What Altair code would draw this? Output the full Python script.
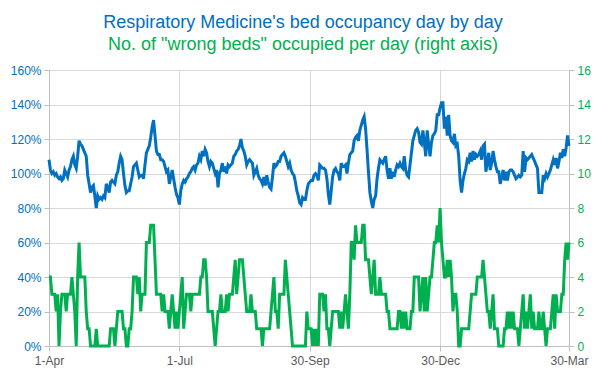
import altair as alt
import pandas as pd

# Daily bed occupancy (%) from 1-Apr to 30-Mar
occupancy_pct = [
    # Apr - May (days 0-59)
    108, 102, 100, 101, 99, 100, 98, 97, 98, 96,
    97, 102, 100, 98, 102, 104, 108, 110, 105, 103,
    110, 119, 117, 116, 114, 112, 110, 99, 94, 89,
    92, 93, 87, 80, 87, 85, 86, 85, 87, 86,
    94, 92, 89, 95, 96, 95, 94, 99, 101, 106,
    110, 108, 100, 93, 89, 90, 90, 94, 98, 104,
    # days 60-121
    105, 106, 102, 98, 99, 99, 97, 105, 112, 114,
    116, 121, 127, 131, 122, 113, 111, 111, 108, 108,
    107, 104, 101, 102, 94, 98, 102, 97, 92, 88,
    86, 82, 90, 94, 96, 95, 97, 98, 100, 101,
    103, 104, 102, 105, 106, 110, 108, 113, 110, 114,
    112, 107, 104, 107, 106, 103, 100, 102, 92, 100,
    102, 106,
    # days 122-182
    101, 104, 100, 105, 104, 105, 106, 110, 111, 113,
    114, 116, 120, 115, 113, 110, 105, 107, 108, 107,
    106, 99, 101, 103, 99, 97, 96, 94, 98, 93,
    99, 95, 92, 91, 98, 106, 104, 105, 107, 107,
    110, 111, 112, 110, 107, 104, 106, 102, 100, 99,
    95, 90, 87, 83, 82, 86, 85, 85, 90, 94,
    95,
    # days 183-244
    96, 96, 99, 100, 99, 96, 105, 104, 103, 103,
    102, 97, 88, 82, 90, 98, 102, 103, 101, 100,
    96, 106, 104, 104, 105, 100, 106, 111, 112, 113,
    119, 121, 122, 119, 125, 128, 131, 133, 126, 114,
    101, 89, 84, 80, 85, 87, 97, 103, 108, 107,
    106, 108, 110, 102, 97, 103, 97, 101, 98, 102,
    105, 104,
    # days 245-305
    106, 104, 103, 110, 102, 99, 98, 105, 112, 119,
    122, 125, 126, 124, 118, 117, 125, 118, 110, 125,
    117, 110, 118, 122, 123, 125, 134, 134, 138, 141,
    141, 126, 133, 122, 134, 122, 119, 118, 123, 116,
    117, 110, 96, 89, 96, 100, 103, 108, 107, 112,
    107, 113, 108, 111, 110, 111, 113, 108, 116, 117,
    101,
    # days 306-363
    107, 112, 102, 106, 113, 108, 104, 101, 101, 94,
    98, 102, 96, 101, 96, 101, 102, 102, 101, 99,
    97, 98, 99, 98, 99, 113, 101, 109, 108, 109,
    110, 111, 109, 107, 105, 103, 89, 89, 89, 99,
    97, 100, 98, 100, 102, 105, 108, 105, 109, 103,
    107, 112, 109, 114, 110, 115, 122, 116,
]

# Number of "wrong beds" occupied per day
wrong_beds = [
    # days 0-59
    4, 4, 3, 3, 3, 2, 3, 0, 2, 3,
    3, 3, 2, 3, 3, 3, 4, 3, 2, 0,
    4, 6, 4, 4, 4, 4, 2, 1, 1, 0,
    0, 0, 0, 1, 0, 0, 0, 0, 0, 0,
    0, 0, 0, 1, 1, 1, 0, 1, 2, 2,
    2, 2, 1, 1, 0, 0, 1, 1, 2, 4,
    # days 60-121
    4, 4, 3, 4, 2, 3, 3, 3, 6, 6,
    6, 7, 7, 7, 5, 3, 3, 3, 3, 2,
    3, 2, 2, 2, 1, 2, 3, 2, 1, 2,
    1, 2, 3, 4, 1, 2, 3, 3, 3, 2,
    3, 3, 3, 3, 3, 3, 4, 4, 5, 5,
    4, 2, 2, 2, 2, 1, 0, 1, 2, 2,
    3, 2,
    # days 122-182
    2, 2, 3, 2, 3, 3, 3, 4, 5, 3,
    4, 5, 5, 5, 4, 3, 2, 2, 2, 3,
    2, 2, 2, 1, 1, 1, 1, 0, 1, 1,
    1, 1, 1, 2, 3, 4, 2, 2, 1, 3,
    3, 3, 3, 5, 4, 3, 2, 1, 0, 0,
    0, 0, 0, 0, 0, 0, 0, 0, 2, 1,
    1,
    # days 183-244
    1, 0, 1, 0, 1, 0, 3, 3, 3, 2,
    3, 1, 1, 0, 1, 2, 2, 2, 2, 2,
    1, 2, 1, 2, 3, 2, 1, 3, 6, 6,
    5, 7, 6, 6, 6, 6, 7, 7, 5, 5,
    5, 4, 3, 4, 5, 3, 3, 3, 4, 3,
    3, 3, 3, 2, 2, 1, 1, 1, 1, 1,
    1, 2,
    # days 245-305
    2, 1, 2, 1, 2, 1, 1, 1, 2, 2,
    4, 4, 4, 4, 2, 3, 4, 2, 4, 2,
    3, 4, 4, 5, 6, 6, 7, 6, 8, 6,
    5, 4, 4, 5, 4, 5, 4, 2, 3, 3,
    2, 0, 0, 1, 1, 1, 1, 1, 1, 2,
    3, 3, 3, 3, 4, 4, 4, 4, 5, 4,
    3,
    # days 306-363
    2, 2, 1, 2, 3, 1, 1, 1, 0, 0,
    0, 0, 1, 1, 2, 1, 2, 1, 2, 1,
    1, 1, 0, 1, 2, 3, 1, 2, 1, 2,
    3, 1, 2, 1, 1, 1, 2, 1, 1, 2,
    1, 0, 1, 1, 1, 2, 3, 1, 3, 2,
    2, 2, 3, 3, 5, 6, 5, 6,
]

start_date = "2018-04-01"
tick_dates = ["2018-04-01", "2018-07-01", "2018-09-30", "2018-12-30", "2019-03-30"]
tick_labels = ["1-Apr", "1-Jul", "30-Sep", "30-Dec", "30-Mar"]
left_ticks = [0, 0.2, 0.4, 0.6, 0.8, 1.0, 1.2, 1.4, 1.6]
right_ticks = [0, 2, 4, 6, 8, 10, 12, 14, 16]

n = min(len(occupancy_pct), len(wrong_beds))
start = pd.Timestamp(start_date)
tick_days = [int((pd.Timestamp(d) - start).days) for d in tick_dates]

df = pd.DataFrame({
    "day": list(range(n)),
    "occ": [v / 100 for v in occupancy_pct[:n]],
    "wrong": wrong_beds[:n],
})

label_expr = ""
for d, l in zip(tick_days, tick_labels):
    label_expr += f"datum.value == {d} ? '{l}' : "
label_expr += "''"

FONT = "Liberation Sans"
BLUE = "#0070C0"
GREEN = "#00B050"
GRID = "#D9D9D9"

base = alt.Chart(df).encode(
    x=alt.X(
        "day:Q",
        scale=alt.Scale(domain=[tick_days[0], tick_days[-1]], nice=False, zero=False),
        axis=alt.Axis(
            values=tick_days, labelExpr=label_expr, title=None,
            grid=True, gridColor=GRID, domainColor="#BFBFBF", tickColor="#BFBFBF",
            tickSize=5, labelColor="#595959", labelFontSize=12, labelFont=FONT,
            labelPadding=4, labelOverlap=False, labelFlush=False,
        ),
    )
)

blue = base.mark_line(color=BLUE, strokeWidth=3).encode(
    y=alt.Y(
        "occ:Q",
        scale=alt.Scale(domain=[0, 1.6], nice=False),
        axis=alt.Axis(
            orient="left", values=left_ticks, format=".0%", title=None,
            grid=True, gridColor=GRID, domainColor="#BFBFBF", tickColor="#BFBFBF",
            tickSize=5, labelColor=BLUE, labelFontSize=12, labelFont=FONT,
            labelPadding=3,
        ),
    )
)

green = base.mark_line(color=GREEN, strokeWidth=3).encode(
    y=alt.Y(
        "wrong:Q",
        scale=alt.Scale(domain=[0, 16], nice=False),
        axis=alt.Axis(
            orient="right", values=right_ticks, title=None,
            grid=False, domainColor="#BFBFBF", tickColor="#BFBFBF",
            tickSize=5, labelColor=GREEN, labelFontSize=12, labelFont=FONT,
            labelPadding=3,
        ),
    )
)

chart = alt.layer(blue, green).resolve_scale(y="independent").properties(
    width=520,
    height=276,
    autosize="none",
    padding={"left": 49, "top": 70, "right": 37, "bottom": 29},
    title=alt.TitleParams(
        text="Respiratory Medicine's bed occupancy day by day",
        subtitle='No. of "wrong beds" occupied per day (right axis)',
        color=BLUE, subtitleColor=GREEN,
        font=FONT, subtitleFont=FONT,
        fontSize=18, subtitleFontSize=18,
        fontWeight="normal", subtitleFontWeight="normal",
        anchor="middle", dx=-6, offset=10, subtitlePadding=4,
    ),
).configure_view(stroke=None).configure(background="white")

chart.save("out.html", embed_options={"renderer": "svg", "actions": False})
